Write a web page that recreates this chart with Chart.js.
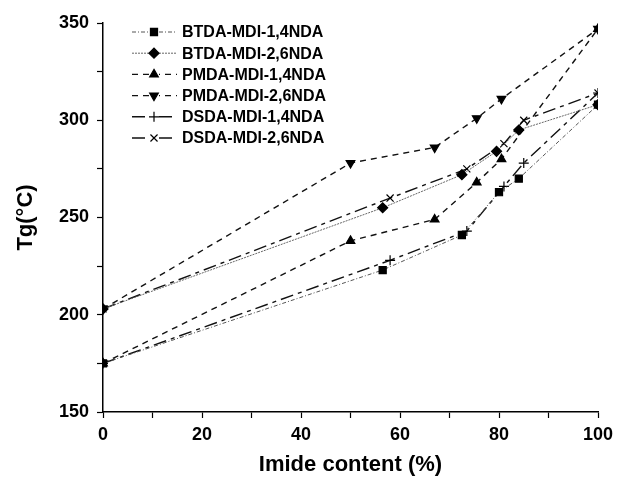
<!DOCTYPE html>
<html>
<head>
<meta charset="utf-8">
<script src="https://cdn.jsdelivr.net/npm/chart.js@4"></script>
<style>
  body { margin: 0; background: #fff; }
  #wrap { width: 621px; height: 480px; }
</style>
</head>
<body>
<div id="wrap"><canvas id="tgChart" width="621" height="480"></canvas></div>
<script>
// Données (Tg en °C selon la teneur en imide, %)
const btda14X = [0, 56.5, 72.5, 80, 84, 100];
const btda14Y = [175, 223, 241, 263, 270, 308];
const btda26X = [0, 56.5, 72.5, 79.5, 84, 100];
const btda26Y = [203, 255, 272, 284, 295, 308];
const pmda14X = [0, 50, 67, 75.5, 80.5, 100];
const pmda14Y = [175, 238, 249, 268, 280, 347];
const pmda26X = [0, 50, 67, 75.5, 80.5, 100];
const pmda26Y = [203, 278, 286, 301, 311, 347];
const dsda14X = [0, 58, 73.5, 81, 85, 100];
const dsda14Y = [175, 228, 243, 266, 278, 314];
const dsda26X = [0, 58, 73.5, 81, 85, 100];
const dsda26Y = [203, 260, 275, 288, 300, 314];

const labels = ['BTDA-MDI-1,4NDA', 'BTDA-MDI-2,6NDA', 'PMDA-MDI-1,4NDA',
                'PMDA-MDI-2,6NDA', 'DSDA-MDI-1,4NDA', 'DSDA-MDI-2,6NDA'];

function pts(xs, ys) {
    return xs.map((x, i) => ({ x: x, y: ys[i] }));
}

const FONT = "'Liberation Sans', Arial, sans-serif";

// Légende dessinée dans la zone du graphique (en haut à gauche)
const insideLegend = {
    id: 'insideLegend',
    afterDatasetsDraw(chart) {
        const ctx = chart.ctx;
        const x0 = 132, x1 = 177, xm = 154, xt = 182;
        let y = 32;
        chart.data.datasets.forEach(ds => {
            ctx.save();
            ctx.strokeStyle = ds.borderColor;
            ctx.lineWidth = ds.borderWidth;
            ctx.setLineDash(ds.borderDash || []);
            ctx.beginPath();
            ctx.moveTo(x0, y);
            ctx.lineTo(x1, y);
            ctx.stroke();
            ctx.setLineDash([]);
            ctx.fillStyle = '#fff';
            ctx.fillRect(xm - 5, y - 5, 10, 10);
            ctx.fillStyle = ds.pointBackgroundColor;
            ctx.strokeStyle = ds.pointBorderColor;
            ctx.lineWidth = 1.2;
            Chart.helpers.drawPoint(ctx, {
                pointStyle: ds.pointStyle,
                rotation: ds.pointRotation || 0,
                radius: ds.pointRadius,
                borderWidth: 1.2
            }, xm, y);
            ctx.fillStyle = '#000';
            ctx.font = 'bold 16px ' + FONT;
            ctx.textBaseline = 'middle';
            ctx.fillText(ds.label, xt, y + 1);
            ctx.restore();
            y += 21.2;
        });
    }
};

function serie(label, data, style, rot, dash, color, width, radius) {
    return {
        label: label,
        data: data,
        borderColor: color,
        borderWidth: width,
        borderDash: dash,
        pointStyle: style,
        pointRotation: rot,
        pointRadius: radius,
        pointBackgroundColor: '#000',
        pointBorderColor: '#000',
        pointBorderWidth: 1.2,
        fill: false,
        tension: 0
    };
}

new Chart(document.getElementById('tgChart').getContext('2d'), {
    type: 'line',
    data: {
        datasets: [
            serie(labels[0], pts(btda14X, btda14Y), 'rect', 0, [4, 2, 1, 2], '#555', 1, 5),
            serie(labels[1], pts(btda26X, btda26Y), 'rectRot', 0, [2, 1], '#666', 1, 5),
            serie(labels[2], pts(pmda14X, pmda14Y), 'triangle', 0, [6, 5], '#111', 1.4, 5),
            serie(labels[3], pts(pmda26X, pmda26Y), 'triangle', 180, [6, 5], '#111', 1.4, 5),
            serie(labels[4], pts(dsda14X, dsda14Y), 'cross', 0, [13, 5, 4, 5], '#111', 1.4, 5),
            serie(labels[5], pts(dsda26X, dsda26Y), 'crossRot', 0, [13, 5, 4, 5], '#111', 1.4, 5)
        ]
    },
    options: {
        responsive: false,
        animation: false,
        layout: { padding: { top: 23, right: 23, left: 0, bottom: 0 } },
        plugins: {
            legend: { display: false },
            tooltip: { enabled: false }
        },
        scales: {
            x: {
                type: 'linear',
                min: 0,
                max: 100,
                afterFit(scale) { scale.height = 68; },
                ticks: {
                    stepSize: 10,
                    autoSkip: false,
                    maxRotation: 0,
                    color: '#000',
                    padding: 6,
                    font: { family: FONT, size: 18, weight: 'bold' },
                    callback: v => (v % 20 === 0 ? v : '')
                },
                grid: { drawOnChartArea: false, drawTicks: true, tickLength: 6, color: '#000', tickWidth: 1.2 },
                border: { display: true, color: '#000', width: 1.5 },
                title: {
                    display: true,
                    text: 'Imide content (%)',
                    color: '#000',
                    font: { family: FONT, size: 22, weight: 'bold' },
                    padding: { top: 0, bottom: 2 }
                }
            },
            y: {
                min: 150,
                max: 350,
                afterFit(scale) { scale.width = 103; },
                ticks: {
                    stepSize: 25,
                    autoSkip: false,
                    color: '#000',
                    padding: 8,
                    font: { family: FONT, size: 18, weight: 'bold' },
                    callback: v => (v % 50 === 0 ? v : '')
                },
                grid: { drawOnChartArea: false, drawTicks: true, tickLength: 6, color: '#000', tickWidth: 1.2 },
                border: { display: true, color: '#000', width: 1.5 },
                title: {
                    display: true,
                    text: 'Tg(°C)',
                    color: '#000',
                    font: { family: FONT, size: 22, weight: 'bold' },
                    padding: { top: 13, bottom: 0 }
                }
            }
        }
    },
    plugins: [insideLegend]
});
</script>
</body>
</html>
